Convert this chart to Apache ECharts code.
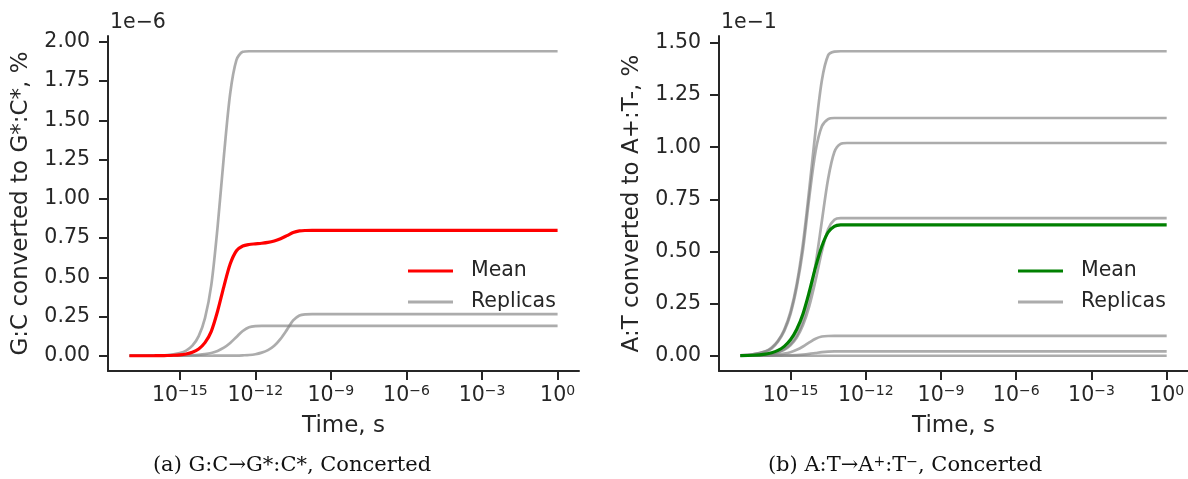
<!DOCTYPE html>
<html>
<head>
<meta charset="utf-8">
<script src="https://cdn.jsdelivr.net/npm/echarts@6/dist/echarts.min.js"></script>
<style>
  html, body { margin: 0; padding: 0; background: #fff; }
  #chart { width: 1188px; height: 479px; }
</style>
</head>
<body>
<div id="chart"></div>
<script>
// time points, seconds (quarter decades through the rise, then flat)
var timeS = [1e-17, 3.16e-17, 1e-16, 1.78e-16, 3.16e-16, 5.62e-16, 1e-15, 1.78e-15, 3.16e-15, 5.62e-15,
             1e-14, 1.78e-14, 3.16e-14, 5.62e-14, 1e-13, 1.78e-13, 3.16e-13, 5.62e-13, 1e-12, 1.78e-12,
             3.16e-12, 5.62e-12, 1e-11, 1.78e-11, 3.16e-11, 5.62e-11, 1e-10, 1.78e-10, 3.16e-10, 1];

// (a) G:C -> G*:C*, values in units of 1e-6 %
var gcReplica1 = [0, 0.0003, 0.0011, 0.0023, 0.0045, 0.009, 0.017, 0.033, 0.064, 0.125,
                  0.24, 0.45, 0.82, 1.27, 1.67, 1.885, 1.936, 1.94, 1.94, 1.94,
                  1.94, 1.94, 1.94, 1.94, 1.94, 1.94, 1.94, 1.94, 1.94, 1.94];
var gcReplica2 = [0, 0, 0.0001, 0.0002, 0.0003, 0.0005, 0.001, 0.0019, 0.0033, 0.0059,
                  0.0104, 0.018, 0.031, 0.0515, 0.0817, 0.12, 0.158, 0.182, 0.189, 0.19,
                  0.19, 0.19, 0.19, 0.19, 0.19, 0.19, 0.19, 0.19, 0.19, 0.19];
var gcReplica3 = [0, 0, 0, 0, 0, 0, 0, 0, 0, 0,
                  0, 0.0002, 0.0005, 0.0008, 0.001, 0.0015, 0.003, 0.005, 0.01, 0.02,
                  0.036, 0.064, 0.108, 0.165, 0.225, 0.257, 0.264, 0.265, 0.265, 0.265];
var gcMean = [0, 0.0001, 0.0004, 0.0008, 0.0016, 0.0032, 0.006, 0.0116, 0.0224, 0.0436,
              0.0835, 0.156, 0.2838, 0.4408, 0.5842, 0.6688, 0.699, 0.709, 0.713, 0.7167,
              0.722, 0.7313, 0.746, 0.765, 0.785, 0.7957, 0.798, 0.7983, 0.7983, 0.7983];
var gcReplicas = [gcReplica1, gcReplica2, gcReplica3];

// (b) A:T -> A+:T-, values in units of 1e-1 %
var atReplica1 = [0.002, 0.007, 0.022, 0.04, 0.072, 0.125, 0.21, 0.345, 0.54, 0.80,
                  1.08, 1.32, 1.44, 1.458, 1.46, 1.46, 1.46, 1.46, 1.46, 1.46,
                  1.46, 1.46, 1.46, 1.46, 1.46, 1.46, 1.46, 1.46, 1.46, 1.46];
var atReplica2 = [0.002, 0.0064, 0.020, 0.0355, 0.068, 0.118, 0.2, 0.33, 0.51, 0.76,
                  0.98, 1.1, 1.135, 1.14, 1.14, 1.14, 1.14, 1.14, 1.14, 1.14,
                  1.14, 1.14, 1.14, 1.14, 1.14, 1.14, 1.14, 1.14, 1.14, 1.14];
var atReplica3 = [0.0006, 0.0018, 0.0057, 0.0101, 0.018, 0.0318, 0.0558, 0.097, 0.166, 0.277,
                  0.439, 0.645, 0.848, 0.977, 1.016, 1.02, 1.02, 1.02, 1.02, 1.02,
                  1.02, 1.02, 1.02, 1.02, 1.02, 1.02, 1.02, 1.02, 1.02, 1.02];
var atReplica4 = [0.0005, 0.0017, 0.0052, 0.0093, 0.0164, 0.0288, 0.0504, 0.087, 0.147, 0.238,
                  0.362, 0.5, 0.607, 0.652, 0.66, 0.66, 0.66, 0.66, 0.66, 0.66,
                  0.66, 0.66, 0.66, 0.66, 0.66, 0.66, 0.66, 0.66, 0.66, 0.66];
var atReplica5 = [0.0002, 0.0006, 0.0019, 0.0033, 0.0058, 0.0101, 0.0172, 0.0284, 0.0445, 0.064,
                  0.082, 0.0922, 0.0948, 0.095, 0.095, 0.095, 0.095, 0.095, 0.095, 0.095,
                  0.095, 0.095, 0.095, 0.095, 0.095, 0.095, 0.095, 0.095, 0.095, 0.095];
var atReplica6 = [0, 0, 0.0002, 0.0003, 0.0006, 0.0012, 0.0021, 0.0034, 0.0057, 0.0091,
                  0.0133, 0.0175, 0.0201, 0.0209, 0.021, 0.021, 0.021, 0.021, 0.021, 0.021,
                  0.021, 0.021, 0.021, 0.021, 0.021, 0.021, 0.021, 0.021, 0.021, 0.021];
var atReplica7 = [0, 0, 0, 0, 0, 0, 0, 0, 0, 0,
                  0, 0, 0, 0, 0, 0, 0, 0, 0, 0,
                  0, 0, 0, 0, 0, 0, 0, 0, 0, 0];
var atMean = [0.0008, 0.0025, 0.0079, 0.0141, 0.0258, 0.045, 0.0765, 0.1273, 0.2019, 0.3069,
              0.4252, 0.525, 0.5921, 0.6204, 0.6274, 0.628, 0.628, 0.628, 0.628, 0.628,
              0.628, 0.628, 0.628, 0.628, 0.628, 0.628, 0.628, 0.628, 0.628, 0.628];
var atReplicas = [atReplica1, atReplica2, atReplica3, atReplica4, atReplica5, atReplica6, atReplica7];

var timeTicks = [1e-15, 1e-12, 1e-9, 1e-6, 1e-3, 1];
var gcTicks = [0, 0.25, 0.5, 0.75, 1, 1.25, 1.5, 1.75, 2];
var atTicks = [0, 0.25, 0.5, 0.75, 1, 1.25, 1.5];

var ink = '#262626';
var replicaColor = 'rgba(128,128,128,0.65)';

function pairs(vals) {
    return timeS.map(function (t, i) { return [t, vals[i]]; });
}

function powLabel(v) {
    var p = Math.round(Math.log10(v));
    return '{b|10}{s|' + (p < 0 ? '\u2212' + (-p) : p) + '}';
}

function timeAxis(idx) {
    return {
        type: 'log', logBase: 10, gridIndex: idx,
        min: 1.41e-18, max: 7.08,
        name: 'Time, s', nameLocation: 'middle', nameGap: 44,
        nameTextStyle: { fontSize: 23, color: ink },
        axisLine: { onZero: false, lineStyle: { color: ink, width: 2 } },
        axisTick: { customValues: timeTicks, length: 9, lineStyle: { color: ink, width: 2 } },
        axisLabel: {
            customValues: timeTicks, margin: 13, color: ink, formatter: powLabel,
            rich: {
                b: { fontSize: 20.5, lineHeight: 24, color: ink },
                s: { fontSize: 14, lineHeight: 14, verticalAlign: 'top', color: ink }
            }
        },
        splitLine: { show: false },
        minorTick: { show: false }
    };
}

function valueAxis(idx, lo, hi, ticks, title) {
    return {
        type: 'value', gridIndex: idx, min: lo, max: hi,
        name: title, nameLocation: 'middle', nameGap: 75,
        nameTextStyle: { fontSize: 23, color: ink },
        axisLine: { show: true, onZero: false, lineStyle: { color: ink, width: 2 } },
        axisTick: { show: true, customValues: ticks, length: 9, lineStyle: { color: ink, width: 2 } },
        axisLabel: {
            customValues: ticks, margin: 18, fontSize: 20.5, color: ink,
            formatter: function (v) { return v.toFixed(2); }
        },
        splitLine: { show: false }
    };
}

function lineSeries(name, idx, vals, color, width) {
    return {
        name: name, type: 'line', xAxisIndex: idx, yAxisIndex: idx, data: pairs(vals),
        symbol: 'none', smooth: 0.3,
        lineStyle: { color: color, width: width }, itemStyle: { color: color }
    };
}

var series = [];
gcReplicas.forEach(function (r) { series.push(lineSeries('Replicas', 0, r, replicaColor, 2.7)); });
series.push(lineSeries('Mean', 0, gcMean, '#ff0000', 3.2));
atReplicas.forEach(function (r) { series.push(lineSeries('Replicas (b)', 1, r, replicaColor, 2.7)); });
series.push(lineSeries('Mean (b)', 1, atMean, '#008000', 3.2));

function legendAt(left, names) {
    return {
        data: names, orient: 'vertical', left: left, top: 259, padding: 0,
        icon: 'rect', itemWidth: 45, itemHeight: 3, itemGap: 7, selectedMode: false,
        formatter: function (n) { return n.replace(' (b)', ''); },
        textStyle: { fontSize: 20.5, color: ink, lineHeight: 24, padding: [0, 0, 0, 13] }
    };
}

var chart = echarts.init(document.getElementById('chart'), null, { renderer: 'canvas' });
chart.setOption({
    animation: false,
    backgroundColor: '#ffffff',
    textStyle: { fontFamily: 'DejaVu Sans' },
    title: [
        { text: '1e\u22126', left: 110, top: 12, padding: 0,
          textStyle: { fontSize: 20.5, fontWeight: 'normal', color: ink } },
        { text: '1e\u22121', left: 721, top: 12, padding: 0,
          textStyle: { fontSize: 20.5, fontWeight: 'normal', color: ink } },
        { text: '(a) G:C\u2192G*:C*, Concerted', left: 292, textAlign: 'center', top: 455, padding: 0,
          textStyle: { fontFamily: 'DejaVu Serif', fontSize: 21, fontWeight: 'normal', color: '#111' } },
        { text: '(b) A:T\u2192A{s|+}:T{s|\u2212}, Concerted', left: 905, textAlign: 'center', top: 455, padding: 0,
          textStyle: { fontFamily: 'DejaVu Serif', fontSize: 21, fontWeight: 'normal', color: '#111',
              rich: { s: { fontFamily: 'DejaVu Serif', fontSize: 14, verticalAlign: 'top', lineHeight: 12, color: '#111' } } } }
    ],
    legend: [legendAt(408, ['Mean', 'Replicas']), legendAt(1018, ['Mean (b)', 'Replicas (b)'])],
    grid: [
        { left: 108, top: 36, width: 471, height: 335 },
        { left: 719, top: 36, width: 471, height: 335 }
    ],
    xAxis: [timeAxis(0), timeAxis(1)],
    yAxis: [
        valueAxis(0, -0.097, 2.037, gcTicks, 'G:C converted to G*:C*, %'),
        valueAxis(1, -0.073, 1.533, atTicks, 'A:T converted to A+:T-, %')
    ],
    series: series
});
</script>
</body>
</html>
